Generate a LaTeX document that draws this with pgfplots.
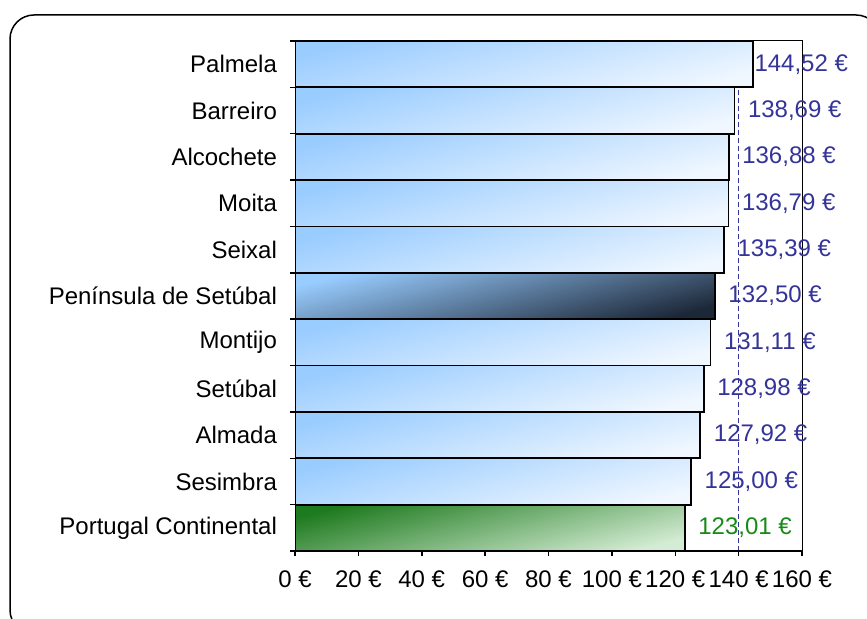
\documentclass[border=0pt]{standalone}
\usepackage{fontspec}
\setmainfont{Liberation Sans}
\usepackage{pgfplots}
\pgfplotsset{compat=1.18}
\definecolor{lblue}{HTML}{99CCFF}
\definecolor{wblue}{HTML}{F0F7FF}
\definecolor{dnavy}{HTML}{1C2838}
\definecolor{dgreen}{HTML}{1E7A1E}
\definecolor{pgreen}{HTML}{D4ECD4}
\definecolor{lbltxt}{HTML}{333399}
\definecolor{grtxt}{HTML}{168A16}
\pgfplotsset{
  barb/.style={xbar, draw=black, top color=lblue, bottom color=wblue, shading angle=14},
}

\begin{document}
\begin{tikzpicture}[x=1pt,y=1pt]
  \useasboundingbox (0,0) rectangle (433.5,-309.5);
  \clip (0,0) rectangle (433.5,-309.5);
  \draw[line width=0.75pt, rounded corners=12pt] (5,-7.5) rectangle (440,-317);
  \begin{axis}[
    at={(147.5pt,-275.5pt)}, anchor=south west,
    scale only axis, width=253.5pt, height=255pt,
    font=\fontsize{12}{14}\selectfont,
    /pgf/number format/assume math mode=true,
    xmin=0, xmax=160, ymin=-0.5, ymax=10.5,
    enlargelimits=false,
    bar width=1, bar shift=0pt,
    xtick={0,20,...,160},
    xticklabel={\pgfmathprintnumber{\tick}~€},
    xtick pos=bottom, ytick pos=left,
    ytick={0,...,10},
    yticklabels={Portugal Continental, Sesimbra, Almada, Setúbal, Montijo,
      Península de Setúbal, Seixal, Moita, Alcochete, Barreiro, Palmela},
    minor ytick={-0.5,0.5,...,10.5},
    major y tick style={draw=none},
    tick align=outside,
    major tick length=2.5pt, minor tick length=2.5pt,
    tick style={line width=0.75pt, black},
    y tick label style={xshift=-3pt},
    x tick label style={yshift=-4pt},
    axis line style={line width=0.5pt},
    point meta=x,
    nodes near coords={\pgfmathprintnumber[fixed,zerofill,precision=2,use comma]{\pgfplotspointmeta}~€},
    nodes near coords style={font=\fontsize{12}{14}\selectfont, color=lbltxt, xshift=3pt},
    every axis plot/.append style={line width=0.9pt},
  ]
    % reference line
    \addplot[draw=lbltxt, dash pattern=on 2.5pt off 1.5pt, line width=0.75pt, no marks, nodes near coords={}]
      coordinates {(140,-0.5) (140,10.5)};
    % municipalities, one plot each so that every bar gets its own shading
    \addplot[barb, nodes near coords style={xshift=-6pt}] coordinates {(144.52,10)};
    \addplot[barb] coordinates {(138.69,9)};
    \addplot[barb] coordinates {(136.88,8)};
    \addplot[barb] coordinates {(136.79,7)};
    \addplot[barb] coordinates {(135.39,6)};
    \addplot[barb] coordinates {(131.11,4)};
    \addplot[barb] coordinates {(128.98,3)};
    \addplot[barb] coordinates {(127.92,2)};
    \addplot[barb] coordinates {(125.00,1)};
    % region
    \addplot[xbar, draw=black, top color=lblue, bottom color=dnavy, shading angle=14]
      coordinates {(132.50,5)};
    % country
    \addplot[xbar, draw=black, top color=dgreen, bottom color=pgreen, shading angle=14,
      nodes near coords style={color=grtxt}]
      coordinates {(123.01,0)};
    \draw[line width=1pt] (rel axis cs:0,1) -- (rel axis cs:0,0) -- (rel axis cs:1,0);
  \end{axis}
\end{tikzpicture}
\end{document}
